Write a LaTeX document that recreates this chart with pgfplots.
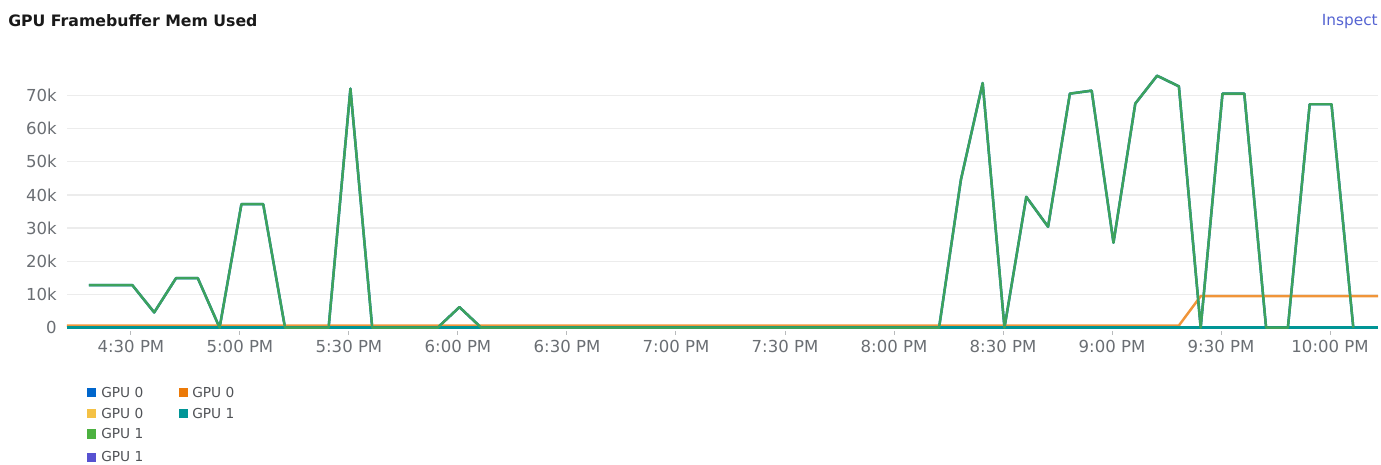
\documentclass[border=0pt]{standalone}
\usepackage{pgfplots}
\pgfplotsset{compat=1.18}
\usepackage{fontspec}
\setmainfont{DejaVu Sans}
\definecolor{pfblue}{HTML}{0066CC}
\definecolor{pforange}{HTML}{EC7A08}
\definecolor{pfyellow}{HTML}{F4C145}
\definecolor{pfteal}{HTML}{009596}
\definecolor{pfgreen}{HTML}{4CB140}
\definecolor{pfpurple}{HTML}{5752D1}
\definecolor{linegreen}{RGB}{61,162,92}
\definecolor{lineorange}{RGB}{240,149,57}
\definecolor{tickgray}{RGB}{106,110,115}
\definecolor{gridgray}{RGB}{236,236,236}
\definecolor{linkblue}{RGB}{85,100,210}
\definecolor{legtext}{RGB}{80,82,86}
\begin{document}
\begin{tikzpicture}[x=0.75pt,y=0.75pt]
\path[use as bounding box] (0,0) rectangle (1381,464);
\begin{axis}[
  at={(50.25pt,99.75pt)}, anchor=south west,
  scale only axis, width=983.25pt, height=196.7pt,
  xmin=12.4, xmax=373.2, ymin=-1000, ymax=78000,
  axis line style={draw=none},
  xtick={30,60,90,120,150,180,210,240,270,300,330,360},
  xticklabels={4:30 PM,5:00 PM,5:30 PM,6:00 PM,6:30 PM,7:00 PM,7:30 PM,8:00 PM,8:30 PM,9:00 PM,9:30 PM,10:00 PM},
  ytick={0,10000,20000,30000,40000,50000,60000,70000},
  yticklabels={0,10k,20k,30k,40k,50k,60k,70k},
  ymajorgrids, grid style={gridgray, line width=1pt},
  xtick pos=bottom, ytick pos=left,
  tick align=outside,
  major tick length=3pt,
  xtick style={draw=gridgray!60!tickgray, line width=0.75pt},
  ytick style={draw=none},
  tick label style={font=\fontsize{12.4}{14}\selectfont, text=tickgray},
  yticklabel style={anchor=east, inner sep=0pt, xshift=-4.5pt},
  xticklabel style={anchor=north, inner sep=0pt, yshift=-3.75pt},
  scaled y ticks=false,
  every axis plot/.append style={line width=1.85pt, line join=round, mark=none},
]
\addplot[pfpurple] coordinates {(12.4,0) (373.2,0)};
\addplot[pfblue] coordinates {
(18.4,12800) (24.4,12800) (30.4,12800) (36.4,4600) (42.4,14900) (48.4,14900)
(54.4,0) (60.4,37200) (66.4,37200) (72.4,0) (78.4,0) (84.4,0) (90.4,72000)
(96.4,0) (102.4,0) (108.4,0) (114.4,0) (120.4,6200) (126.4,0) (132.4,0)
(138.4,0) (144.4,0) (150.4,0) (156.4,0) (162.4,0) (168.4,0) (174.4,0)
(180.4,0) (186.4,0) (192.4,0) (198.4,0) (204.4,0) (210.4,0) (216.4,0)
(222.4,0) (228.4,0) (234.4,0) (240.4,0) (246.4,0) (252.4,0) (258.4,44500)
(264.4,73700) (270.4,0) (276.4,39400) (282.4,30400) (288.4,70500)
(294.4,71400) (300.4,25600) (306.4,67500) (312.4,75900) (318.4,72700)
(324.4,0) (330.4,70500) (336.4,70500) (342.4,0) (348.4,0) (354.4,67300)
(360.4,67300) (366.4,0)};
\addplot[lineorange] coordinates {(12.4,650) (318.4,650) (324.4,9500) (373.2,9500)};
\addplot[pfyellow] coordinates {(12.4,0) (373.2,0)};
\addplot[pfteal] coordinates {(12.4,0) (373.2,0)};
\addplot[linegreen] coordinates {
(18.4,12800) (24.4,12800) (30.4,12800) (36.4,4600) (42.4,14900) (48.4,14900)
(54.4,0) (60.4,37200) (66.4,37200) (72.4,0) (78.4,0) (84.4,0) (90.4,72000)
(96.4,0) (102.4,0) (108.4,0) (114.4,0) (120.4,6200) (126.4,0) (132.4,0)
(138.4,0) (144.4,0) (150.4,0) (156.4,0) (162.4,0) (168.4,0) (174.4,0)
(180.4,0) (186.4,0) (192.4,0) (198.4,0) (204.4,0) (210.4,0) (216.4,0)
(222.4,0) (228.4,0) (234.4,0) (240.4,0) (246.4,0) (252.4,0) (258.4,44500)
(264.4,73700) (270.4,0) (276.4,39400) (282.4,30400) (288.4,70500)
(294.4,71400) (300.4,25600) (306.4,67500) (312.4,75900) (318.4,72700)
(324.4,0) (330.4,70500) (336.4,70500) (342.4,0) (348.4,0) (354.4,67300)
(360.4,67300) (366.4,0)};
\end{axis}
% title and link
\node[anchor=base west, inner sep=0pt, font=\fontsize{11.8}{14}\selectfont\bfseries, text=black!90] at (8,437) {GPU Framebuffer Mem Used};
\node[anchor=base east, inner sep=0pt, font=\fontsize{11.5}{14}\selectfont, text=linkblue] at (1378,438) {Inspect};
% legend
\begin{scope}[every node/.style={anchor=west, inner sep=0pt, font=\fontsize{10.3}{12}\selectfont, text=legtext}]
\fill[pfblue] (87,67) rectangle (96,76);   \node at (101,71.5) {GPU 0};
\fill[pforange] (179,67) rectangle (188,76); \node at (192,71.5) {GPU 0};
\fill[pfyellow] (87,46) rectangle (96,55); \node at (101,50.5) {GPU 0};
\fill[pfteal] (179,46) rectangle (188,55); \node at (192,50.5) {GPU 1};
\fill[pfgreen] (87,25.5) rectangle (96,34.5); \node at (101,30) {GPU 1};
\fill[pfpurple] (87,2.5) rectangle (96,11.5); \node at (101,7) {GPU 1};
\end{scope}
\end{tikzpicture}
\end{document}
